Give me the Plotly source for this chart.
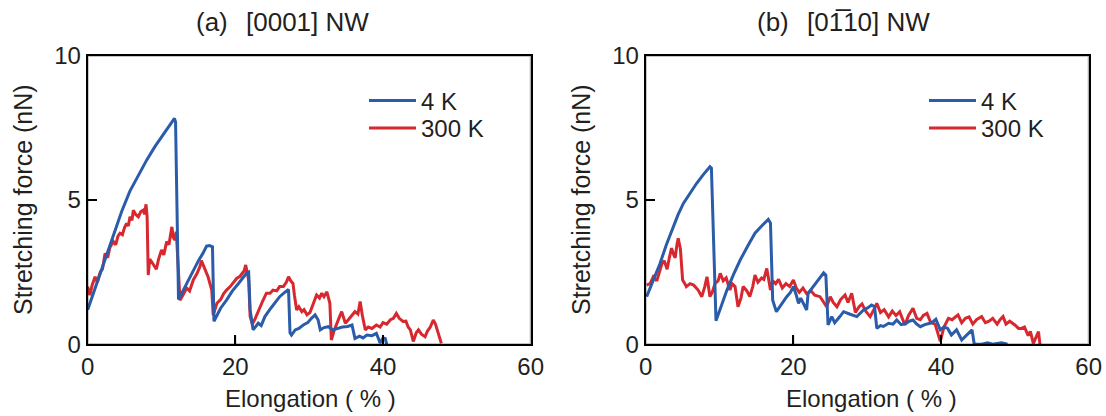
import plotly.graph_objects as go

# ---------------- data ----------------
# Panel (a) [0001] NW
a4k_x = [0, 1, 2, 3, 3.5, 4.6, 5.7, 6.9, 8.0, 9.1, 10.5, 11.75, 11.9, 12.3, 12.8, 13.5, 14.3, 15.0, 15.6,
         16.1, 16.5, 16.9, 17.1, 17.4, 18.0, 18.8, 19.6, 20.4, 21.0, 21.5, 21.8, 22.0, 22.4, 22.7, 23.1,
         23.5, 24.0, 24.8, 25.5, 26.0, 26.6, 27.2, 27.4, 27.6, 28.1, 28.6, 29.2, 29.8, 30.3, 30.8, 31.2,
         31.5, 32.0, 32.6, 33.2, 33.9, 34.5, 35.2, 35.8, 36.2, 36.8, 37.3, 37.8, 38.5, 39.1, 39.6, 40.0,
         40.3, 40.5]
a4k_y = [1.20, 1.95, 2.70, 3.45, 3.80, 4.60, 5.30, 5.87, 6.39, 6.85, 7.37, 7.83, 7.70, 1.55, 1.80, 2.15,
         2.57, 2.90, 3.15, 3.40, 3.42, 3.38, 0.80, 0.95, 1.25, 1.53, 1.85, 2.10, 2.30, 2.46, 2.50, 1.20,
         0.50, 0.60, 0.73, 0.65, 0.96, 1.25, 1.50, 1.65, 1.78, 1.90, 0.40, 0.32, 0.50, 0.55, 0.67, 0.75,
         0.90, 1.02, 0.85, 0.50, 0.58, 0.61, 0.50, 0.55, 0.60, 0.62, 0.67, 0.20, 0.28, 0.22, 0.32, 0.30,
         0.38, 0.05, 0.22, 0.20, 0.0]

a300k_x = [0, 0.3, 0.6, 1.0, 1.3, 1.7, 2.0, 2.35, 2.7, 3.0, 3.47, 3.8, 4.1, 4.37, 4.7, 5.0, 5.28, 5.5,
           5.73, 6.0, 6.18, 6.5, 6.86, 7.2, 7.53, 7.7, 7.9, 8.05, 8.2, 8.4, 8.66, 9.0, 9.3, 9.6, 10.0,
           10.3, 10.7, 11.0, 11.4, 11.6, 11.8, 12.0, 12.3, 12.5, 13.0, 13.4, 13.8, 14.3, 14.8, 15.2, 15.4,
           15.7, 15.9, 16.3, 16.8, 17.0, 17.5, 18.0, 18.4, 18.8, 19.3, 19.8, 20.2, 20.6, 20.9, 21.2, 21.4,
           21.8, 22.0, 22.3, 22.7, 23.0, 23.3, 23.7, 24.2, 24.7, 25.1, 25.6, 26.0, 26.5, 26.9, 27.2, 27.5,
           27.8, 28.0, 28.3, 28.6, 29.0, 29.3, 29.7, 30.1, 30.5, 31.0, 31.4, 31.7, 32.0, 32.4, 32.8, 33.0,
           33.4, 33.8, 34.1, 34.4, 34.9, 35.3, 35.8, 36.2, 36.6, 36.9, 37.2, 37.6, 38.0, 38.5, 39.1, 39.6,
           40.0, 40.5, 41.0, 41.4, 41.8, 42.2, 42.7, 43.1, 43.4, 43.7, 44.1, 44.5, 44.8, 45.2, 45.7, 46.0,
           46.4, 46.8, 47.1, 47.5, 47.9]
a300k_y = [2.0, 1.7, 2.05, 2.34, 2.15, 2.5, 2.6, 3.15, 3.0, 3.35, 3.56, 3.45, 3.75, 3.85, 3.8, 4.05, 4.19,
           4.1, 4.42, 4.3, 4.65, 4.5, 4.42, 4.6, 4.65, 4.5, 4.85, 4.4, 2.4, 2.95, 2.86, 2.7, 2.6, 2.95,
           3.27, 3.1, 3.56, 3.45, 4.07, 3.7, 3.61, 3.9, 2.2, 1.53, 1.75, 1.95, 1.85, 2.23, 2.45, 2.69, 2.9,
           2.7, 2.57, 2.34, 1.88, 1.01, 1.42, 1.55, 1.75, 1.88, 2.0, 2.15, 2.29, 2.35, 2.46, 2.55, 2.75,
           2.23, 0.96, 0.7, 0.9, 1.1, 1.3, 1.5, 1.77, 1.77, 1.88, 1.85, 2.0, 2.0, 2.15, 2.34, 2.2, 2.11,
           1.7, 1.19, 1.3, 1.13, 1.2, 1.02, 1.1, 1.4, 1.71, 1.6, 1.77, 1.65, 1.82, 1.42, 0.15, 0.5, 0.8,
           0.95, 1.13, 0.73, 0.85, 1.0, 1.13, 1.05, 1.48, 1.0, 0.5, 0.6, 0.55, 0.67, 0.6, 0.75, 0.7, 0.85,
           0.9, 1.07, 0.9, 0.79, 0.8, 0.6, 0.5, 0.1, 0.4, 0.5, 0.35, 0.26, 0.45, 0.6, 0.84, 0.7, 0.4, 0.03]

# Panel (b) [0-110] NW
b4k_x = [0.13, 1.0, 1.94, 2.8, 3.74, 4.4, 5.1, 6.0, 6.9, 7.8, 8.7, 8.9, 9.52, 10.2, 11.0, 11.9, 12.8,
         13.8, 14.8, 15.7, 16.6, 16.9, 17.2, 17.7, 18.4, 19.1, 19.6, 20.0, 20.4, 20.7, 21.0, 21.3, 21.8,
         22.0, 22.7, 23.4, 24.1, 24.4, 24.7, 25.2, 25.6, 26.3, 26.8, 27.6, 28.6, 29.5, 30.0, 30.6, 31.0,
         31.3, 31.8, 32.2, 32.9, 33.5, 34.0, 34.6, 35.2, 35.7, 36.2, 36.7, 37.2, 37.8, 38.5, 39.0, 39.3,
         39.9, 40.4, 40.9, 41.4, 42.1, 42.8, 43.4, 44.2, 44.5, 45.5, 46.3, 47.0, 48.2, 49.0]
b4k_y = [1.65, 2.2, 2.8, 3.45, 4.07, 4.5, 4.88, 5.25, 5.58, 5.88, 6.15, 6.1, 0.82, 1.3, 1.88, 2.42, 2.92,
         3.4, 3.85, 4.1, 4.33, 4.2, 1.53, 1.13, 1.4, 1.65, 1.8, 2.0, 1.7, 1.42, 1.6, 1.45, 1.19, 1.77,
         2.0, 2.25, 2.48, 2.4, 0.67, 0.96, 0.75, 0.96, 1.13, 1.05, 0.96, 1.19, 1.25, 1.36, 1.3, 0.55,
         0.65, 0.62, 0.73, 0.7, 0.84, 0.68, 0.72, 0.8, 0.84, 0.7, 0.61, 0.68, 0.73, 0.8, 0.87, 0.5, 0.6,
         0.55, 0.32, 0.5, 0.15, 0.3, 0.5, 0.0, 0.0, 0.05, 0.0, 0.05, 0.0]

b300k_x = [0.13, 0.6, 1.03, 1.5, 1.8, 2.2, 2.5, 2.9, 3.2, 3.5, 3.8, 4.0, 4.2, 4.4, 4.7, 5.0, 5.3, 5.5,
           6.0, 6.5, 7.1, 7.6, 8.0, 8.3, 8.7, 9.0, 9.4, 9.8, 10.1, 10.5, 10.9, 11.4, 11.7, 12.1, 12.5,
           12.9, 13.2, 13.7, 14.1, 14.5, 14.8, 15.2, 15.7, 16.0, 16.4, 16.9, 17.2, 17.6, 18.0, 18.5, 19.0,
           19.5, 20.0, 20.4, 20.8, 21.3, 21.8, 22.4, 22.9, 23.6, 24.0, 24.5, 25.0, 25.4, 25.9, 26.4, 27.0,
           27.4, 27.9, 28.4, 28.9, 29.3, 29.8, 30.4, 30.9, 31.3, 31.8, 32.3, 32.9, 33.4, 33.9, 34.4, 35.1,
           35.6, 36.2, 36.7, 37.2, 37.6, 38.1, 38.6, 39.2, 39.5, 39.9, 40.4, 41.0, 41.5, 42.0, 42.3, 42.8,
           43.3, 43.8, 44.3, 44.8, 45.5, 46.0, 46.5, 47.0, 47.6, 48.0, 48.4, 48.8, 49.3, 50.0, 50.5, 50.9,
           51.3, 51.8, 52.1, 52.5, 53.0, 53.2, 53.4]
b300k_y = [2.05, 2.1, 2.34, 2.2, 2.45, 2.8, 2.9, 2.6, 3.0, 3.33, 3.1, 3.0, 3.4, 3.67, 3.3, 2.23, 2.1,
           2.0, 2.1, 2.05, 1.88, 1.65, 2.0, 2.34, 1.65, 1.8, 2.11, 2.2, 2.46, 2.2, 2.3, 1.88, 2.1, 2.0,
           1.3, 1.6, 2.0, 1.85, 1.65, 2.0, 2.4, 2.15, 2.3, 2.25, 2.63, 1.88, 2.2, 2.1, 2.25, 1.95, 2.1,
           2.0, 2.23, 1.95, 1.8, 1.95, 1.75, 1.85, 1.7, 1.65, 1.5, 1.3, 1.65, 1.45, 1.3, 1.55, 1.71, 1.45,
           1.77, 1.1, 1.3, 1.4, 1.15, 0.96, 1.2, 1.42, 1.1, 1.2, 0.95, 1.15, 1.0, 1.13, 0.67, 1.0, 1.25,
           0.9, 0.85, 1.0, 1.07, 0.75, 0.7, 0.4, 0.1, 0.6, 0.9, 0.85, 0.95, 1.02, 0.75, 0.9, 0.95, 0.7,
           0.85, 0.96, 0.75, 0.8, 0.9, 0.7, 0.85, 0.96, 0.7, 0.8, 0.67, 0.55, 0.55, 0.6, 0.3, 0.45, 0.03,
           0.3, 0.44, 0.0]

x_ticks = [0, 20, 40, 60]
y_ticks = [0, 5, 10]
series_names = ["4 K", "300 K"]
panel_titles = ["(a)\u2002\u2009[0001] NW", "(b)\u2002\u2009[01\u030510] NW"]
x_title = "Elongation ( % )"
y_title = "Stretching force (nN)"

# ---------------- style ----------------
W, H = 1106, 416
BLUE = "#2a5caa"
RED = "#d7282f"
TXT = "#231f20"
FONT = "Liberation Sans, Arial, sans-serif"
TICKLEN = 9

def px_x(p):
    return p / W

def px_y(p):
    return 1 - p / H

dom_a = [px_x(87.7), px_x(530.7)]
dom_b = [px_x(645.7), px_x(1088.7)]
dom_y = [px_y(344.3), px_y(55.7)]

fig = go.Figure()
fig.add_trace(go.Scatter(x=a300k_x, y=a300k_y, mode="lines", name=series_names[1], showlegend=True,
                         line=dict(color=RED, width=3), xaxis="x", yaxis="y", legend="legend2"))
fig.add_trace(go.Scatter(x=a4k_x, y=a4k_y, mode="lines", name=series_names[0], showlegend=True,
                         line=dict(color=BLUE, width=3), xaxis="x", yaxis="y", legend="legend"))
fig.add_trace(go.Scatter(x=b300k_x, y=b300k_y, mode="lines", name=series_names[1], showlegend=True,
                         line=dict(color=RED, width=3), xaxis="x2", yaxis="y2", legend="legend4"))
fig.add_trace(go.Scatter(x=b4k_x, y=b4k_y, mode="lines", name=series_names[0], showlegend=True,
                         line=dict(color=BLUE, width=3), xaxis="x2", yaxis="y2", legend="legend3"))

axis_common = dict(showline=True, mirror=True, linecolor="#000000", linewidth=2,
                   ticks="inside", ticklen=TICKLEN, tickwidth=2, tickcolor="#000000",
                   showgrid=False, zeroline=False, automargin=False, layer="above traces",
                   tickfont=dict(family=FONT, size=24, color=TXT))

fig.update_layout(
    template="simple_white",
    width=W, height=H, autosize=False, showlegend=True,
    margin=dict(l=0, r=0, t=0, b=0, pad=0, autoexpand=False),
    paper_bgcolor="white", plot_bgcolor="white",
    font=dict(family=FONT, size=24, color=TXT),
    xaxis=dict(domain=dom_a, range=[0, 60], tickvals=x_ticks, anchor="y", **axis_common),
    yaxis=dict(domain=dom_y, range=[0, 10], tickvals=y_ticks, anchor="x", **axis_common),
    xaxis2=dict(domain=dom_b, range=[0, 60], tickvals=x_ticks, anchor="y2", **axis_common),
    yaxis2=dict(domain=dom_y, range=[0, 10], tickvals=y_ticks, anchor="x2", **axis_common),
)

# frame and inside tick marks drawn explicitly as shapes (follow the axes' own scales)
shapes = []
for xa, ya in (("x", "y"), ("x2", "y2")):
    shapes.append(dict(type="rect", xref=f"{xa} domain", yref=f"{ya} domain",
                       x0=0, x1=1, y0=0, y1=1, line=dict(color="#000000", width=2),
                       fillcolor="rgba(0,0,0,0)", layer="above"))
    for v in x_ticks[1:-1]:
        shapes.append(dict(type="line", xref=xa, yref=f"{ya} domain", ysizemode="pixel", yanchor=0,
                           x0=v, x1=v, y0=0, y1=TICKLEN, line=dict(color="#000000", width=2),
                           layer="above"))
    for v in y_ticks[1:-1]:
        shapes.append(dict(type="line", xref=f"{xa} domain", yref=ya, xsizemode="pixel", xanchor=0,
                           x0=0, x1=TICKLEN, y0=v, y1=v, line=dict(color="#000000", width=2),
                           layer="above"))
fig.update_layout(shapes=shapes)

leg_common = dict(xanchor="left", yanchor="middle", bgcolor="rgba(0,0,0,0)", visible=True,
                  font=dict(family=FONT, size=24, color=TXT), itemwidth=47,
                  borderwidth=0, tracegroupgap=0)
fig.update_layout(
    legend=dict(x=px_x(364), y=px_y(101), **leg_common),
    legend2=dict(x=px_x(364), y=px_y(128.3), **leg_common),
    legend3=dict(x=px_x(924), y=px_y(101), **leg_common),
    legend4=dict(x=px_x(924), y=px_y(128.3), **leg_common),
)

annotations = [
    dict(text=panel_titles[0], x=px_x(282), y=px_y(22), size=26),
    dict(text=panel_titles[1], x=px_x(843), y=px_y(22), size=26),
    dict(text=x_title, x=px_x(310), y=px_y(398), size=24),
    dict(text=x_title, x=px_x(871), y=px_y(398), size=24),
    dict(text=y_title, x=px_x(23), y=px_y(200), size=25, textangle=-90),
    dict(text=y_title, x=px_x(581), y=px_y(200), size=25, textangle=-90),
]
ann_out = []
for a in annotations:
    size = a.pop("size")
    a.update(xref="paper", yref="paper", xanchor="center", yanchor="middle", showarrow=False,
             font=dict(family=FONT, size=size, color=TXT))
    ann_out.append(a)
fig.update_layout(annotations=ann_out)

fig.write_html("out.html", config={"displayModeBar": False},
               post_script="document.body.style.margin='0px';")
